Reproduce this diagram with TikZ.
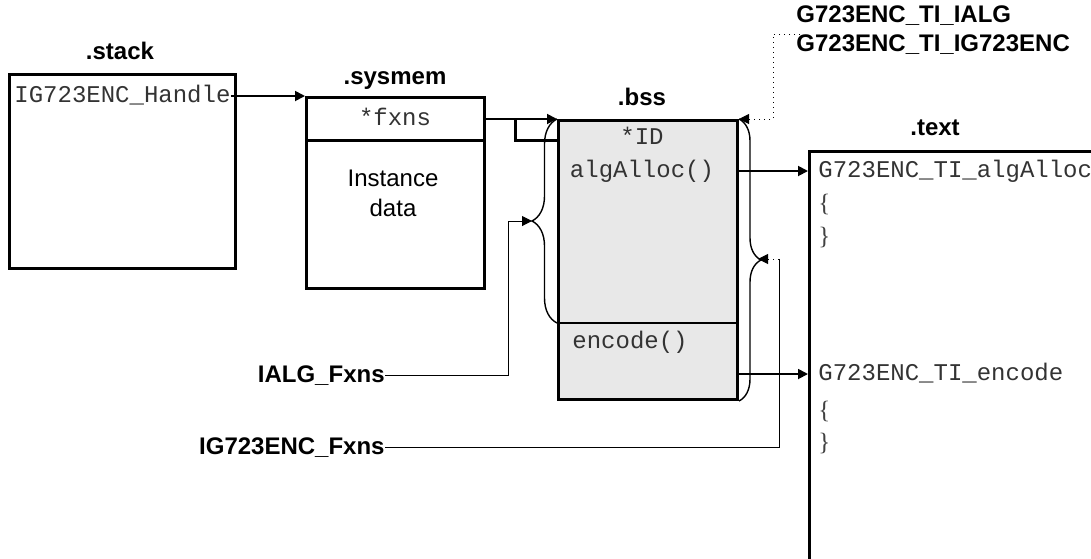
\documentclass[tikz,border=0pt]{standalone}
\usepackage{fontspec}
\setmainfont{Liberation Sans}
\setmonofont{Liberation Mono}
\newfontfamily\bracefont{Liberation Serif}
\usepackage{tikz}
\usetikzlibrary{calc}
\usetikzlibrary{arrows.meta}
\usetikzlibrary{decorations.pathreplacing}
\tikzstyle{every node}=[font=\fontsize{12}{15}\selectfont, inner sep=0pt]
\tikzstyle{seg}=[draw, line width=1.5pt, anchor=north west]
\tikzstyle{sect}=[font=\fontsize{12}{15}\selectfont\bfseries, text height=9pt, text depth=2pt]
\tikzstyle{code}=[font=\fontsize{12}{15}\selectfont\ttfamily, text=black!80, text height=8pt, text depth=2pt]
\tikzstyle{curl}=[font=\fontsize{12.5}{15}\selectfont\bracefont, text=black!75, anchor=west]
\tikzstyle{tip}=[-{Triangle[length=5pt,width=5pt]}]
\tikzstyle{ptr}=[line width=0.9pt, tip]
\tikzstyle{lead}=[line width=0.5pt]
\tikzstyle{curly}=[line width=0.7pt, decorate]

\begin{document}
\begin{tikzpicture}[x=0.5pt, y=-0.5pt]
                \useasboundingbox (0,0) rectangle (1091,558);

                \node[seg, minimum width=113pt, minimum height=97pt] (stack) at (8,73) {};
                \node[seg, minimum width=89pt, minimum height=95.5pt] (sysmem) at (305,96) {};
                \node[seg, fill=black!9, minimum width=89.5pt, minimum height=139.5pt] (bss) at (557,119) {};
                \node[seg, minimum width=200pt, minimum height=250pt] (text) at (808,150) {};
                \draw[line width=1.5pt] ($(sysmem.north west)+(0,44)$) -- ($(sysmem.north east)+(0,44)$);
                \draw[line width=1pt] ($(bss.north west)+(0,204)$) -- ($(bss.north east)+(0,204)$);

                \node[sect] (stacklbl) at (120,52) {.stack};
                \node[sect] (sysmemlbl) at (395,77) {.sysmem};
                \node[sect] (bsslbl) at (642,98) {.bss};
                \node[sect] (textlbl) at (935,128) {.text};
                \node[sect, anchor=west] (tiialg) at (796,15) {G723ENC\_TI\_IALG};
                \node[sect, anchor=west] (tiig) at (796,44) {G723ENC\_TI\_IG723ENC};
                \node[sect, anchor=east] (ialg) at (385,375) {IALG\_Fxns};
                \node[sect, anchor=east] (igfx) at (385,447) {IG723ENC\_Fxns};

                \node[code, anchor=west] (handle) at (14,96) {IG723ENC\_Handle};
                \node[code] (fxns) at (395,119) {*fxns};
                \node[align=center] (inst) at (393,193) {Instance\\data};
                \node[code] (id) at (642,138) {*ID};
                \node[code] (alloc) at (642,171) {algAlloc()};
                \node[code, anchor=west] (enc) at (572,342) {encode()};
                \node[code, anchor=west] (tialloc) at (818,171) {G723ENC\_TI\_algAlloc};
                \node[curl] (open1) at (818,204) {\{};
                \node[curl] (close1) at (818,237) {\}};
                \node[code, anchor=west] (tienc) at (818,374) {G723ENC\_TI\_encode};
                \node[curl] (open2) at (818,411) {\{};
                \node[curl] (close2) at (818,443) {\}};

                \coordinate (hook) at (515,119);
                \coordinate (ltip) at (532,221);
                \coordinate (ialgturn) at (508,221);
                \coordinate (rtip) at (758,259);
                \coordinate (igturn) at (779,259);
                \coordinate (tiref) at (800,34);

                \draw[ptr] (handle.east) -- (sysmem.north west);
                \draw[ptr] (fxns.east -| sysmem.east) -- (bss.north west);
                \draw[line width=1.5pt] (hook) |- ($(bss.north west)+(0,21)$);
                \draw[curly, decoration={brace, amplitude=12.5pt}] ($(bss.north west)+(0,204)$) -- (bss.north west);
                \draw[curly, decoration={brace, amplitude=11pt}] (bss.north east) -- (bss.south east);
                \draw[lead, tip] (ialg.east) -| (ialgturn) -- (ltip);
                \draw[lead] (igfx.east) -| (igturn);
                \draw[lead, dotted, tip] (igturn) -- (rtip);
                \draw[lead, dotted, tip] (tiref) -- ++(-27,0) |- (bss.north east);
                \draw[ptr] (bss.east |- alloc) -- (text.west |- alloc);
                \draw[ptr] (bss.east |- tienc) -- (text.west |- tienc);
            \end{tikzpicture}
\end{document}
